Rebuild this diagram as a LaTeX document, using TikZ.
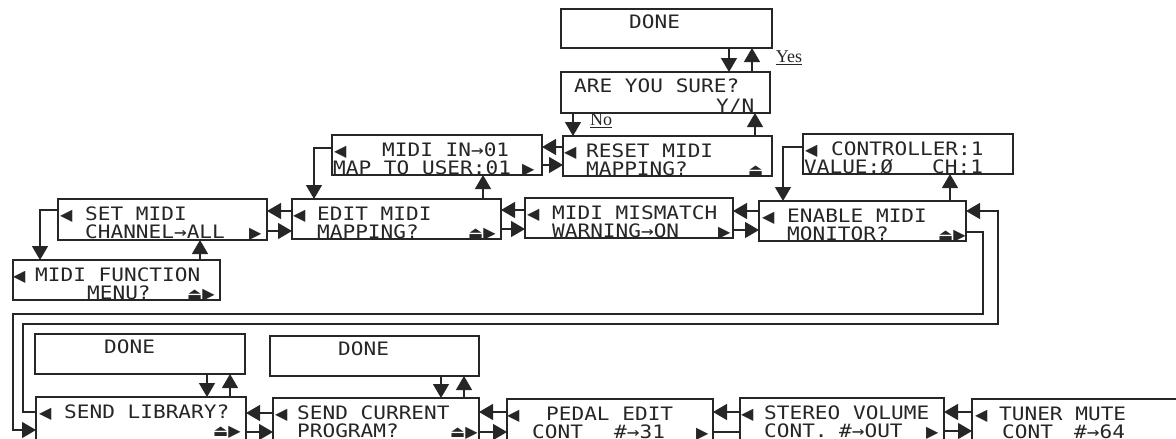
\documentclass[tikz,border=0pt]{standalone}
\usepackage{fontspec}
\usetikzlibrary{arrows.meta,calc}
\newfontfamily\lcdfont[FakeStretch=1.14]{DejaVu Sans Mono}
\newfontfamily\iconfont{DejaVu Sans}
\newfontfamily\labfont{Liberation Serif}
\newcommand\mkbox[5]{\node[box, minimum width={#4-#2}, minimum height={#5-#3}] (#1) at ({(#2+#4)/2},{(#3+#5)/2}) {};}
\newcommand\tx[5]{\node[txt] (#1) at ($(#2.north west)+(#3,#4)$) {#5};}
\newcommand\ic[5]{\node[ico] (#1) at ($(#2.north west)+(#3,#4)$) {#5};}
\begin{document}
\begin{tikzpicture}[x=1pt,y=-1pt,
  box/.style={draw=black!85, line width=1.4pt, rectangle, inner sep=0pt, outer sep=0pt},
  txt/.style={anchor=base west, inner sep=0pt, text=black!85, font=\lcdfont\fontsize{18.5}{18.5}\selectfont},
  ico/.style={anchor=base west, inner sep=0pt, text=black!85, font=\iconfont\fontsize{16}{16}\selectfont},
  lab/.style={inner sep=0pt, text=black!85, font=\labfont\fontsize{18}{18}\selectfont},
  arr/.style={draw=black!85, line width=1.4pt, -{Triangle[length=14pt,width=16pt]}},
  ln/.style={draw=black!85, line width=1.4pt}]
\useasboundingbox (0,0) rectangle (1176,439);
\fill[white] (0,0) rectangle (1176,439);
% boxes
\mkbox{doneT}{561}{9}{772}{48}
\mkbox{sure}{561}{72}{770}{113}
\mkbox{reset}{563}{136}{772}{176}
\mkbox{midiin}{332}{135}{542}{175}
\mkbox{ctrl}{803}{134}{1013}{174}
\mkbox{edit}{292}{199}{501}{239}
\mkbox{mismatch}{525}{198}{733}{238}
\mkbox{enable}{759}{201}{966}{241}
\mkbox{setmidi}{58}{199}{267}{240}
\mkbox{func}{13}{260}{220}{300}
\mkbox{doneL}{35}{334}{245}{374}
\mkbox{doneM}{270}{336}{479}{376}
\mkbox{lib}{36}{397}{246}{442}
\mkbox{current}{273}{398}{479}{442}
\mkbox{pedal}{507}{399}{713}{442}
\mkbox{stereo}{740}{398}{944}{442}
\mkbox{tuner}{972}{399}{1182}{442}
% texts
\tx{doneT-t}{doneT}{68}{19}{DONE}
\tx{sure-t1}{sure}{13}{20}{ARE YOU SURE?}
\tx{sure-t2}{sure}{155}{40}{Y/N}
\ic{reset-i1}{reset}{1}{21}{◀}
\tx{reset-t1}{reset}{23}{21}{RESET MIDI}
\tx{reset-t2}{reset}{23}{39}{MAPPING?}
\ic{reset-i2}{reset}{185}{39}{⏏}
\ic{midiin-i1}{midiin}{2}{21}{◀}
\tx{midiin-t1}{midiin}{50}{21}{MIDI IN→01}
\tx{midiin-t2}{midiin}{1}{39}{MAP TO USER:01}
\ic{midiin-i2}{midiin}{190}{39}{▶}
\ic{ctrl-i1}{ctrl}{2}{21}{◀}
\tx{ctrl-t1}{ctrl}{28}{21}{CONTROLLER:1}
\tx{ctrl-t2}{ctrl}{1}{39}{VALUE:Ø}
\tx{ctrl-t3}{ctrl}{129}{39}{CH:1}
\ic{edit-i1}{edit}{1}{21}{◀}
\tx{edit-t1}{edit}{25}{21}{EDIT MIDI}
\tx{edit-t2}{edit}{25}{39}{MAPPING?}
\ic{edit-i2}{edit}{176}{39}{⏏▶}
\ic{mismatch-i1}{mismatch}{2}{21}{◀}
\tx{mismatch-t1}{mismatch}{27}{21}{MIDI MISMATCH}
\tx{mismatch-t2}{mismatch}{27}{39}{WARNING→ON}
\ic{mismatch-i2}{mismatch}{193}{39}{▶}
\ic{enable-i1}{enable}{3}{21}{◀}
\tx{enable-t1}{enable}{28}{21}{ENABLE MIDI}
\tx{enable-t2}{enable}{28}{39}{MONITOR?}
\ic{enable-i2}{enable}{179}{39}{⏏▶}
\ic{setmidi-i1}{setmidi}{2}{21}{◀}
\tx{setmidi-t1}{setmidi}{27}{21}{SET MIDI}
\tx{setmidi-t2}{setmidi}{27}{39}{CHANNEL→ALL}
\ic{setmidi-i2}{setmidi}{191}{39}{▶}
\ic{func-i1}{func}{0}{21}{◀}
\tx{func-t1}{func}{22}{21}{MIDI FUNCTION}
\tx{func-t2}{func}{74}{39}{MENU?}
\ic{func-i2}{func}{174}{39}{⏏▶}
\tx{doneL-t}{doneL}{69}{19}{DONE}
\tx{doneM-t}{doneM}{68}{19}{DONE}
\ic{lib-i1}{lib}{3}{21}{◀}
\tx{lib-t1}{lib}{28}{21}{SEND LIBRARY?}
\ic{lib-i2}{lib}{177}{39}{⏏▶}
\ic{current-i1}{current}{2}{21}{◀}
\tx{current-t1}{current}{24}{21}{SEND CURRENT}
\tx{current-t2}{current}{24}{39}{PROGRAM?}
\ic{current-i2}{current}{177}{39}{⏏▶}
\ic{pedal-i1}{pedal}{0}{21}{◀}
\tx{pedal-t1}{pedal}{39}{21}{PEDAL EDIT}
\tx{pedal-t2}{pedal}{25}{39}{CONT}
\tx{pedal-t3}{pedal}{107}{39}{\#→31}
\ic{pedal-i2}{pedal}{189}{39}{▶}
\ic{stereo-i1}{stereo}{1}{21}{◀}
\tx{stereo-t1}{stereo}{24}{21}{STEREO VOLUME}
\tx{stereo-t2}{stereo}{24}{39}{CONT.}
\tx{stereo-t3}{stereo}{99}{39}{\#→OUT}
\ic{stereo-i2}{stereo}{186}{39}{▶}
\ic{tuner-i1}{tuner}{3}{21}{◀}
\tx{tuner-t1}{tuner}{27}{21}{TUNER MUTE}
\tx{tuner-t2}{tuner}{30}{39}{CONT}
\tx{tuner-t3}{tuner}{102}{39}{\#→64}
% labels
\node[lab] (yes) at (789,58) {\underline{Yes}};
\node[lab] (no) at (601,121) {\underline{No}};
% vertical connectors
\draw[arr] (doneT.south -| 729,0) -- (sure.north -| 729,0);
\draw[arr] (sure.north -| 752,0) -- (doneT.south -| 752,0);
\draw[arr] (sure.south -| 573,0) -- (reset.north -| 573,0);
\draw[arr] (reset.north -| 755,0) -- (sure.south -| 755,0);
\draw[arr] (midiin.west |- 0,148) -- (314,148) -- (edit.north -| 314,0);
\draw[arr] (edit.north -| 483,0) -- (midiin.south -| 483,0);
\draw[arr] (ctrl.west |- 0,147) -- (783,147) -- (enable.north -| 783,0);
\draw[arr] (enable.north -| 950,0) -- (ctrl.south -| 950,0);
\draw[arr] (setmidi.west |- 0,210) -- (40,210) -- (func.north -| 40,0);
\draw[arr] (func.north -| 200,0) -- (setmidi.south -| 200,0);
\draw[arr] (doneL.south -| 207,0) -- (lib.north -| 207,0);
\draw[arr] (lib.north -| 230,0) -- (doneL.south -| 230,0);
\draw[arr] (doneM.south -| 441,0) -- (current.north -| 441,0);
\draw[arr] (current.north -| 464,0) -- (doneM.south -| 464,0);
% horizontal connectors
\draw[arr] (reset.west |- 0,147) -- (midiin.east |- 0,147);
\draw[arr] (midiin.east |- 0,165) -- (reset.west |- 0,165);
\draw[arr] (edit.west |- 0,211) -- (setmidi.east |- 0,211);
\draw[arr] (setmidi.east |- 0,231) -- (edit.west |- 0,231);
\draw[arr] (mismatch.west |- 0,210) -- (edit.east |- 0,210);
\draw[arr] (edit.east |- 0,229) -- (mismatch.west |- 0,229);
\draw[arr] (enable.west |- 0,211) -- (mismatch.east |- 0,211);
\draw[arr] (mismatch.east |- 0,230) -- (enable.west |- 0,230);
\draw[arr] (current.west |- 0,413) -- (lib.east |- 0,413);
\draw[arr] (lib.east |- 0,432) -- (current.west |- 0,432);
\draw[arr] (pedal.west |- 0,412) -- (current.east |- 0,412);
\draw[arr] (current.east |- 0,432) -- (pedal.west |- 0,432);
\draw[arr] (stereo.west |- 0,412) -- (pedal.east |- 0,412);
\draw[ln] (pedal.east |- 0,432) -- (stereo.west |- 0,432);
\draw[arr] (tuner.west |- 0,412) -- (stereo.east |- 0,412);
\draw[arr] (stereo.east |- 0,431) -- (tuner.west |- 0,431);
% long loops
\draw[arr] (enable.east |- 0,232) -- (983,232) -- (983,314) -- (13,314) -- (13,430) -- (lib.west |- 0,430);
\draw[arr] (lib.west |- 0,412) -- (23,412) -- (23,324) -- (998,324) -- (998,211) -- (enable.east |- 0,211);
\end{tikzpicture}
\end{document}
